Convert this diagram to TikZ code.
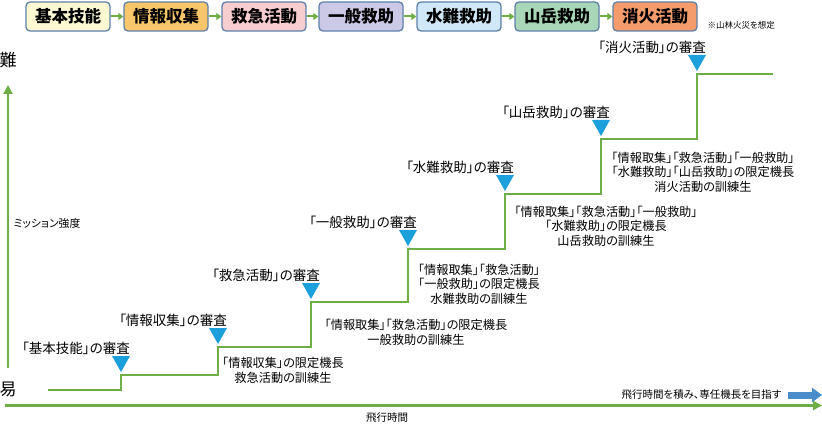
\documentclass[tikz,border=0pt]{standalone}
\usepackage{fontspec}
\setmainfont{Noto Sans CJK JP}[RawFeature=+palt]
\usetikzlibrary{arrows.meta}
\definecolor{axisgreen}{HTML}{6DAE45}
\definecolor{trianglebl}{HTML}{1CA0DC}
\definecolor{boxline}{HTML}{5E80A8}
\definecolor{goalblue}{HTML}{4A8DCB}
\definecolor{fkihon}{HTML}{FBF8D2}
\definecolor{fjoho}{HTML}{F9C76B}
\definecolor{fkyukyu}{HTML}{F7CDD0}
\definecolor{fippan}{HTML}{CCC9E6}
\definecolor{fsuinan}{HTML}{D0E8F8}
\definecolor{fsangaku}{HTML}{A9D6B6}
\definecolor{fshoka}{HTML}{F49C6C}
\begin{document}
\begin{tikzpicture}[x=1pt,y=-1pt,line join=miter,font=\fontsize{12.2}{14.5}\selectfont]
	\tikzset{box/.style={draw=boxline,line width=1.3,rounded corners=4,minimum width=84,minimum height=29,inner sep=0,font=\fontsize{16.5}{16.5}\selectfont\bfseries},
		boxarrow/.style={draw=axisgreen,line width=2,-{Triangle[length=5pt,width=7pt]}},
		axis/.style={draw=axisgreen,line width=2.5,-{Triangle[length=9pt,width=9pt]}},
		stairline/.style={draw=axisgreen,line width=2.2},
		review/.style={font=\fontsize{13.5}{15}\selectfont},
		note/.style={align=center}}
	\useasboundingbox (0,0) rectangle (822,425);
	% course boxes
	\foreach \x/\t/\c [count=\i] in {68/基本技能/fkihon,166/情報収集/fjoho,264/救急活動/fkyukyu,361/一般救助/fippan,459/水難救助/fsuinan,557/山岳救助/fsangaku,655/消火活動/fshoka}
		\node[box,fill=\c] (b\i) at (\x,16.5) {\t};
	\foreach \i [remember=\i as \last (initially 1)] in {2,...,7}
		\draw[boxarrow] (b\last) -- (b\i);
	\node[font=\fontsize{8.5}{9}\selectfont,anchor=west] (fire) at (704,25) {※山林火災を想定};
	% axes
	\node[font=\fontsize{17}{17}\selectfont] (hard) at (8,60) {難};
	\node[font=\fontsize{17}{17}\selectfont] (easy) at (8,389) {易};
	\coordinate (ybot) at (8,368);
	\coordinate (ytop) at (8,85);
	\coordinate (xleft) at (5,405.5);
	\coordinate (xright) at (822,405.5);
	\draw[axis] (ybot) -- (ytop);
	\draw[axis] (xleft) -- (xright);
	\node[font=\fontsize{10.8}{10.8}\selectfont] (mission) at (47,223) {ミッション強度};
	\node[font=\fontsize{10.5}{10.5}\selectfont] (flight) at (387,418) {飛行時間};
	\node[font=\fontsize{10.5}{10.5}\selectfont,anchor=east] (goal) at (785,395) {飛行時間を積み、専任機長を目指す};
	\coordinate (goalend) at (822,395);
	\draw[goalblue,line width=7,-{Triangle[length=10pt,width=14pt]}] ([xshift=3pt]goal.east) -- (goalend);
	% steps
	\draw[stairline] (48,390) -- (121,390) -- (121,375) -- (218,375) -- (218,347) -- (311,347) -- (311,302) -- (408,302) -- (408,249) -- (505,249) -- (505,194) -- (601,194) -- (601,139) -- (697,139) -- (697,74) -- (773,74);
	\foreach \x/\y/\t [count=\i] in {121/375/基本技能,218/347/情報収集,311/302/救急活動,408/249/一般救助,505/194/水難救助,601/139/山岳救助,697/74/消火活動}{
		\fill[trianglebl] (\x-9,\y-19) -- (\x+9,\y-19) -- (\x,\y-3) -- cycle;
		\node[review] (rev\i) at (\x-45,\y-27) {「\t」の審査};
	}
	\node[note] (d1) at (283,370.5) {「情報収集」の限定機長\\救急活動の訓練生};
	\node[note] (d2) at (416,332.5) {「情報取集」「救急活動」の限定機長\\一般救助の訓練生};
	\node[note] (d3) at (479,284) {「情報取集」「救急活動」\\「一般救助」の限定機長\\水難救助の訓練生};
	\node[note] (d4) at (606,226) {「情報取集」「救急活動」「一般救助」\\「水難救助」の限定機長\\山岳救助の訓練生};
	\node[note] (d5) at (703,172) {「情報取集」「救急活動」「一般救助」\\「水難救助」「山岳救助」の限定機長\\消火活動の訓練生};
\end{tikzpicture}
\end{document}
